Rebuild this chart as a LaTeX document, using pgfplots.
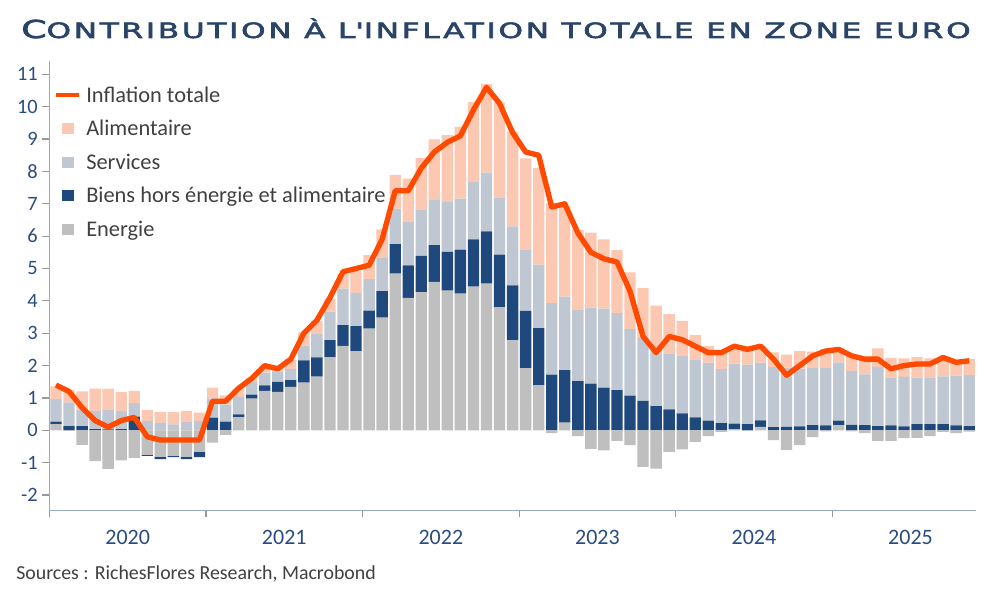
\documentclass[border=0pt]{standalone}
\usepackage{fontspec}
\setmainfont{Carlito}
\newfontfamily\titlefont[LetterSpace=9, FakeBold=2.5]{DejaVu Sans}
\usepackage{graphicx}
\usepackage{pgfplots}
\usepackage{pgfplotstable}
\pgfplotsset{compat=1.18}

\definecolor{alim}{RGB}{252,200,178}
\definecolor{serv}{RGB}{191,200,210}
\definecolor{biens}{RGB}{31,73,125}
\definecolor{ener}{RGB}{191,191,191}
\definecolor{infl}{RGB}{255,74,0}
\definecolor{titleblue}{RGB}{42,68,104}
\definecolor{tickblue}{RGB}{41,76,130}
\definecolor{axisblue}{RGB}{150,170,200}
\definecolor{txtgray}{RGB}{64,64,64}

% m = mois (0 = janv. 2020), E energie, B biens hors energie et alim., S services, A alimentaire, L inflation totale
\pgfplotstableread{
m  E     B     S    A    L
0  0.19  0.08  0.69 0.40 1.4
1  -0.02 0.13  0.73 0.40 1.2
2  -0.45 0.13  0.52 0.55 0.7
3  -0.95 0.04  0.56 0.69 0.3
4  -1.19 0.03  0.62 0.64 0.1
5  -0.93 0.04  0.56 0.59 0.3
6  -0.85 0.42  0.42 0.38 0.4
7  -0.76 -0.03 0.29 0.33 -0.2
8  -0.81 -0.08 0.23 0.34 -0.3
9  -0.79 -0.04 0.18 0.39 -0.3
10 -0.81 -0.08 0.25 0.35 -0.3
11 -0.67 -0.16 0.29 0.26 -0.3
12 -0.38 0.39  0.60 0.33 0.9
13 -0.14 0.27  0.52 0.29 0.9
14 0.41  0.08  0.54 0.26 1.3
15 0.98  0.12  0.39 0.14 1.6
16 1.22  0.17  0.39 0.20 2.0
17 1.19  0.31  0.31 0.19 1.9
18 1.34  0.21  0.34 0.30 2.2
19 1.47  0.69  0.46 0.41 3.0
20 1.66  0.59  0.72 0.41 3.4
21 2.25  0.54  0.88 0.39 4.1
22 2.61  0.64  1.13 0.45 4.9
23 2.45  0.77  1.03 0.67 5.0
24 3.14  0.56  0.97 0.74 5.1
25 3.48  0.82  1.03 0.88 5.9
26 4.84  0.91  1.10 1.04 7.4
27 4.09  1.01  1.36 1.32 7.4
28 4.27  1.12  1.44 1.58 8.1
29 4.59  1.13  1.40 1.87 8.6
30 4.32  1.19  1.55 2.06 8.9
31 4.22  1.36  1.58 2.22 9.1
32 4.44  1.46  1.78 2.46 9.9
33 4.53  1.62  1.81 2.74 10.6
34 3.81  1.62  1.77 2.93 10.1
35 2.78  1.70  1.82 2.92 9.2
36 1.92  1.77  1.90 2.81 8.6
37 1.39  1.77  1.96 2.99 8.5
38 -0.09 1.72  2.21 3.09 6.9
39 0.24  1.62  2.27 2.77 7.0
40 -0.18 1.52  2.19 2.48 6.1
41 -0.57 1.44  2.35 2.32 5.5
42 -0.62 1.32  2.44 2.14 5.3
43 -0.33 1.24  2.38 1.95 5.2
44 -0.46 1.07  2.06 1.75 4.3
45 -1.13 0.91  1.95 1.53 2.9
46 -1.18 0.75  1.86 1.24 2.4
47 -0.67 0.65  1.73 1.21 2.9
48 -0.59 0.52  1.77 1.09 2.8
49 -0.36 0.40  1.78 0.76 2.6
50 -0.18 0.30  1.79 0.52 2.4
51 -0.05 0.22  1.67 0.56 2.4
52 0.03  0.18  1.85 0.55 2.6
53 0.00  0.19  1.84 0.58 2.5
54 0.11  0.20  1.78 0.53 2.6
55 -0.30 0.10  1.86 0.45 2.2
56 -0.61 0.11  1.83 0.40 1.7
57 -0.46 0.12  1.79 0.54 2.0
58 -0.21 0.16  1.76 0.51 2.3
59 -0.03 0.15  1.77 0.59 2.45
60 0.16  0.14  1.80 0.45 2.5
61 -0.03 0.17  1.67 0.51 2.3
62 -0.09 0.16  1.57 0.47 2.2
63 -0.33 0.13  1.83 0.57 2.2
64 -0.33 0.15  1.46 0.63 1.9
65 -0.24 0.12  1.53 0.57 2.0
66 -0.23 0.19  1.44 0.63 2.05
67 -0.18 0.19  1.42 0.61 2.05
68 -0.05 0.19  1.48 0.60 2.25
69 -0.09 0.15  1.54 0.46 2.1
70 -0.04 0.13  1.58 0.49 2.15
}\data

\pgfplotsset{
  base/.style={
    scale only axis, width=694.7pt, height=337.5pt,
    at={(37.1pt,67.7pt)}, anchor=south west,
    xmin=-0.5, xmax=70.5, ymin=-2.485, ymax=11.42,
  },
  barbase/.style={base, ybar stacked, bar width=0.87},
  sqimg/.style={legend image code/.code={%
    \path[draw=none, fill=none] (0pt,-4.1pt) rectangle (17.25pt,4.1pt);
    \fill[#1, draw=none] (4.1pt,-4.1pt) rectangle (13.1pt,4.1pt);}},
}

\begin{document}
\begin{tikzpicture}
\useasboundingbox (0,0) rectangle (750pt,450.75pt);

% barres positives
\begin{axis}[barbase,
  axis x line*=bottom, axis y line*=left,
  axis line style={axisblue, line width=1pt},
  ytick={-2,...,11},
  yticklabels={-2,-1,0,1,2,3,4,5,6,7,8,9,10,11},
  xtick={5.5,17.5,29.5,41.5,53.5,65.5},
  xticklabels={2020,2021,2022,2023,2024,2025},
  minor xtick={-0.5,11.5,23.5,35.5,47.5,59.5},
  tick align=outside,
  major tick length=5.25pt, minor tick length=4.5pt,
  major x tick style={draw=none},
  minor x tick style={draw=gray!80, line width=0.9pt},
  ytick style={draw=gray!80, line width=0.9pt},
  yticklabel style={font=\fontsize{15.3}{18}\selectfont, text=tickblue},
  xticklabel style={font=\fontsize{16.5}{19}\selectfont, text=tickblue, yshift=-6pt},
]
\addplot[fill=ener, draw=none] table[x=m, y expr={max(\thisrow{E},0)}] {\data};
\addplot[fill=biens, draw=none] table[x=m, y expr={max(\thisrow{B},0)}] {\data};
\addplot[fill=serv, draw=none] table[x=m, y=S] {\data};
\addplot[fill=alim, draw=none] table[x=m, y=A] {\data};
\end{axis}

% barres negatives
\begin{axis}[barbase, hide axis]
\addplot[fill=ener, draw=none] table[x=m, y expr={min(\thisrow{E},0)}] {\data};
\addplot[fill=biens, draw=none] table[x=m, y expr={min(\thisrow{B},0)}] {\data};
\end{axis}

% inflation totale et legende
\begin{axis}[base, hide axis,
  legend cell align=left,
  legend style={at={(rel axis cs:0,1)}, anchor=north west,
    xshift=3.4pt, yshift=-20.3pt, draw=none, fill=none,
    inner sep=0pt, outer sep=0pt, row sep=14.4pt,
    font=\fontsize{16.8}{20}\selectfont, text=txtgray,
    nodes={inner sep=0pt, text height=10.8pt, text depth=0pt},
    /tikz/every odd column/.append style={column sep=3.75pt}},
]
\addplot[infl, line width=4pt, line join=round,
  legend image code/.code={\draw[infl, line width=3.2pt] (0pt,0pt) -- (17.25pt,0pt);}]
  table[x=m, y=L] {\data};
\addlegendentry{Inflation totale}
\addlegendimage{draw=none, sqimg=alim}
\addlegendentry{Alimentaire}
\addlegendimage{draw=none, sqimg=serv}
\addlegendentry{Services}
\addlegendimage{draw=none, sqimg=biens}
\addlegendentry{Biens hors énergie et alimentaire}
\addlegendimage{draw=none, sqimg=ener}
\addlegendentry{Energie}
\end{axis}

\node[anchor=base west, inner sep=0pt, text=titleblue] at (15.75pt,422.25pt)
  {\resizebox{712pt}{\height}{\titlefont\fontsize{18.5}{20}\selectfont C\fontsize{15.8}{18}\selectfont ONTRIBUTION À L\textquotesingle INFLATION TOTALE EN ZONE EURO}};
\node[anchor=base west, inner sep=0pt, text=txtgray, font=\fontsize{14.9}{18}\selectfont]
  at (12pt,16.5pt) {Sources : RichesFlores Research, Macrobond};
\end{tikzpicture}
\end{document}
